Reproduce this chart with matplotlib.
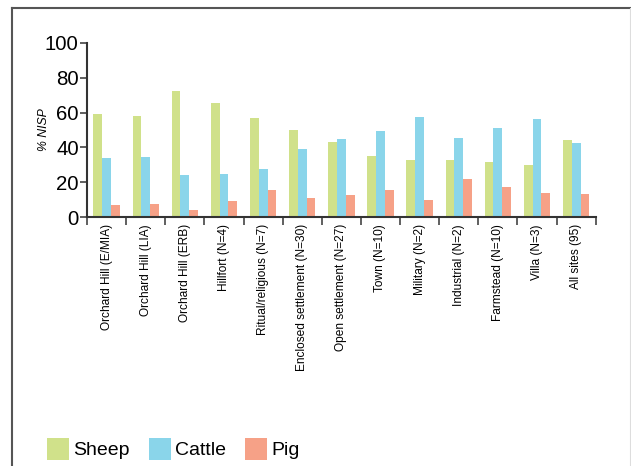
# Percentage NISP of the main domesticates by site type
import matplotlib.pyplot as plt
import numpy as np
from matplotlib.lines import Line2D

plt.rcParams['font.family'] = ['Liberation Sans', 'DejaVu Sans']

# Data
categories = ['Orchard Hill (E/MIA)', 'Orchard Hill (LIA)', 'Orchard Hill (ERB)',
              'Hillfort (N=4)', 'Ritual/religious (N=7)', 'Enclosed settlement (N=30)',
              'Open settlement (N=27)', 'Town (N=10)', 'Military (N=2)',
              'Industrial (N=2)', 'Farmstead (N=10)', 'Villa (N=3)', 'All sites (95)']
sheep = [59.0, 57.9, 72.2, 65.3, 56.8, 49.9, 43.0, 35.0, 32.8, 32.8, 31.6, 29.9, 44.2]
cattle = [33.9, 34.5, 24.2, 24.8, 27.6, 39.0, 44.8, 49.3, 57.3, 45.3, 51.0, 56.2, 42.5]
pig = [7.0, 7.6, 4.2, 9.3, 15.6, 11.0, 12.8, 15.6, 9.9, 21.9, 17.3, 13.9, 13.3]

series = [('Sheep', sheep, '#d0e18a'),
          ('Cattle', cattle, '#8ad5ea'),
          ('Pig', pig, '#f6a187')]

fig = plt.figure(figsize=(6.31, 4.66), dpi=100)
ax = fig.add_axes([0.138, 0.534, 0.806, 0.374])

x = np.arange(len(categories))
w = 0.225
for i, (name, vals, col) in enumerate(series):
    ax.bar(x + (i - 1) * w, vals, w, color=col, label=name, linewidth=0)

ax.set_xlim(-0.5, len(categories) - 0.5)
ax.set_ylim(0, 100)
ax.set_yticks(np.arange(0, 101, 20))
ax.tick_params(axis='y', labelsize=14.7, length=5, width=1.2, color='#444444', pad=1)

# category labels in the middle, tick marks between the groups
ax.set_xticks(x)
ax.set_xticklabels(categories, rotation=90, fontsize=8.6)
ax.tick_params(axis='x', length=0, pad=5)
ax.set_xticks(np.arange(-0.5, len(categories)), minor=True)
ax.tick_params(axis='x', which='minor', length=6, width=1.2, color='#444444')

ax.set_ylabel('% NISP', fontsize=8.8, style='italic')
ax.yaxis.set_label_coords(-0.073, 0.5)

for side in ['top', 'right']:
    ax.spines[side].set_visible(False)
for side in ['left', 'bottom']:
    ax.spines[side].set_color('#333333')
    ax.spines[side].set_linewidth(1.5)

# Legend at the bottom
fig.legend(loc='center left', bbox_to_anchor=(47 / 631, 1 - 449 / 466), ncol=3,
           frameon=False, fontsize=14, handlelength=1.13, handleheight=1.35,
           handletextpad=0.2, columnspacing=1.0, borderpad=0, borderaxespad=0)

# Frame around the figure
fig.add_artist(Line2D([12 / 631, 12 / 631], [0, 1 - 8 / 466], transform=fig.transFigure,
                      color='#555555', linewidth=1.5))
fig.add_artist(Line2D([12 / 631, 1], [1 - 8 / 466, 1 - 8 / 466], transform=fig.transFigure,
                      color='#555555', linewidth=1.5))
fig.add_artist(Line2D([630 / 631, 630 / 631], [0, 1 - 8 / 466], transform=fig.transFigure,
                      color='#dddddd', linewidth=0.8))

fig.savefig('out.png', dpi=100)
